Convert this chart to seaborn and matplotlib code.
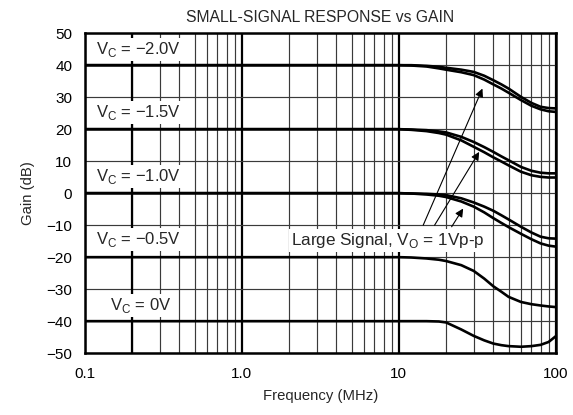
import matplotlib
matplotlib.use("Agg")
import matplotlib.pyplot as plt
import numpy as np
import pandas as pd
import seaborn as sns

# ---- data ----
freq_mhz = [0.1, 10, 12, 15, 18, 20, 25, 30, 35, 40, 45, 50, 60, 70, 80, 90, 100]

vc_m20_small = [40, 40, 40, 39.8, 39.5, 39.2, 38.6, 37.9, 36.7, 35.3, 34.0, 32.7, 30.1, 28.2, 27.0, 26.6, 26.5]
vc_m20_large = [40, 40, 39.9, 39.6, 39.0, 38.6, 37.8, 36.9, 35.5, 34.0, 32.7, 31.4, 29.1, 27.3, 26.2, 25.6, 25.4]
vc_m15_small = [20, 20, 19.9, 19.7, 19.3, 19.0, 17.6, 16.0, 14.4, 12.9, 11.5, 10.3, 8.2, 7.0, 6.4, 6.2, 6.2]
vc_m15_large = [20, 20, 19.8, 19.4, 18.8, 18.3, 16.5, 14.5, 12.8, 11.2, 9.9, 8.7, 6.7, 5.6, 5.1, 4.9, 4.9]
vc_m10_small = [0, 0, -0.1, -0.2, -0.4, -0.6, -1.6, -2.9, -4.2, -5.5, -6.9, -8.2, -10.5, -12.3, -13.6, -14.1, -14.2]
vc_m10_large = [0, 0, -0.1, -0.4, -0.8, -1.2, -2.6, -4.2, -6.0, -7.8, -9.3, -10.6, -12.7, -14.4, -15.7, -16.4, -16.7]
vc_m05 = [-20, -20, -20.1, -20.4, -20.8, -21.2, -22.5, -24.3, -26.7, -29.1, -30.8, -32.4, -34.0, -34.7, -35.1, -35.4, -35.6]
vc_0 = [-40, -40, -40, -40, -40.1, -40.4, -42.6, -44.6, -46.0, -47.0, -47.5, -47.8, -48.0, -47.8, -47.4, -46.5, -44.7]

curves = {
    "-2.0 small": vc_m20_small, "-2.0 large": vc_m20_large,
    "-1.5 small": vc_m15_small, "-1.5 large": vc_m15_large,
    "-1.0 small": vc_m10_small, "-1.0 large": vc_m10_large,
    "-0.5": vc_m05, "0": vc_0,
}

vc_labels = ["\u22122.0V", "\u22121.5V", "\u22121.0V", "\u22120.5V", "0V"]
vc_label_x = [0.118, 0.118, 0.118, 0.118, 0.144]
vc_label_y = [45, 25.3, 5.3, -14.6, -35]

# arrows: (tail freq, tail dB) -> (head freq, head dB)
arrow_tail_f = [14.3, 16.9, 21.7]
arrow_tail_db = [-10, -10, -10.5]
arrow_head_f = [34.1, 32.5, 25.7]
arrow_head_db = [32.7, 12.9, -4.8]

x_tick_vals = [0.1, 1, 10, 100]
x_tick_labels = ["0.1", "1.0", "10", "100"]
y_tick_vals = list(range(-50, 51, 10))

df = pd.DataFrame(
    [(name, f, g) for name, vals in curves.items() for f, g in zip(freq_mhz, vals)],
    columns=["curve", "freq", "gain"],
)

sns.set_theme(style="white")
plt.rcParams["font.family"] = ["Liberation Sans", "DejaVu Sans"]
plt.rcParams["axes.unicode_minus"] = True

fig = plt.figure(figsize=(5.73, 4.15), dpi=100)
ax = fig.add_axes([0.148, 0.149, 0.822, 0.771])

sns.lineplot(
    data=df, x="freq", y="gain", hue="curve",
    palette=["black"] * len(curves), estimator=None, sort=False,
    linewidth=1.9, legend=False, ax=ax, zorder=3,
)

ax.set_xscale("log")
ax.set_xlim(0.1, 100)
ax.set_ylim(-50, 50)

# grid: thin minor decades, thick decade lines
minor = [m * d for d in (0.1, 1, 10) for m in range(2, 10)]
ax.set_xticks(minor, minor=True)
ax.set_xticks(x_tick_vals)
ax.set_xticklabels(x_tick_labels)
ax.set_yticks(y_tick_vals)
ax.set_yticklabels([str(v).replace("-", "\u2212") for v in y_tick_vals])
ax.grid(which="minor", axis="x", color="#3a3a3a", lw=0.85, zorder=1)
ax.grid(which="major", axis="x", color="black", lw=1.6, zorder=1)
ax.grid(which="major", axis="y", color="#3a3a3a", lw=0.85, zorder=1)
ax.axvline(0.2, color="black", lw=1.6, zorder=1)
ax.tick_params(which="both", length=0, labelsize=11, colors="black")
ax.tick_params(axis="x", pad=10)
ax.tick_params(axis="y", pad=9)

for s in ax.spines.values():
    s.set_linewidth(1.8)
    s.set_color("black")

ax.set_xlabel("Frequency (MHz)", fontsize=10.7, labelpad=6)
ax.set_ylabel("Gain (dB)", fontsize=10.7, labelpad=8)
ax.set_title("SMALL-SIGNAL RESPONSE vs GAIN", fontsize=11.3, pad=8)

for lab, lx, ly in zip(vc_labels, vc_label_x, vc_label_y):
    ax.text(lx, ly, r"V$_{\mathregular{C}}$ = " + lab, fontsize=12, va="center",
            ha="left", zorder=4,
            bbox=dict(facecolor="white", edgecolor="none", pad=1.5))

for tf, tdb, hf, hdb in zip(arrow_tail_f, arrow_tail_db, arrow_head_f, arrow_head_db):
    ax.annotate("", xy=(hf, hdb), xytext=(tf, tdb), zorder=5,
                arrowprops=dict(arrowstyle="-|>", color="black", lw=0.8,
                                mutation_scale=12, shrinkA=0, shrinkB=0))

ax.text(2.05, -14.7, r"Large Signal, V$_{\mathregular{O}}$ = 1Vp-p", fontsize=12.3,
        va="center", ha="left", zorder=6,
        bbox=dict(facecolor="white", edgecolor="none", pad=1.5))

fig.savefig("out.png", dpi=100)
